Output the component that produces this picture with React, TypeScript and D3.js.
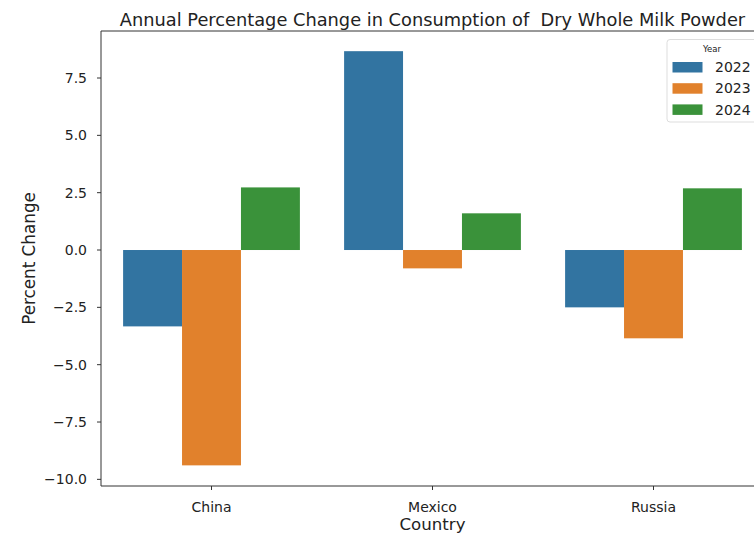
import React from "react";
import * as d3 from "d3";

const countries = ["China", "Mexico", "Russia"];
const years = ["2022", "2023", "2024"];
const values2022 = [-3.33, 8.67, -2.5];
const values2023 = [-9.39, -0.8, -3.85];
const values2024 = [2.73, 1.6, 2.69];
const yTicks = [-10.0, -7.5, -5.0, -2.5, 0.0, 2.5, 5.0, 7.5];
const colors = ["#3274a1", "#e1812c", "#3a923a"];

const W = 754;
const H = 533;
const left = 101;
const right = 764;
const top = 31;
const bottom = 486;
const font = "DejaVu Sans, sans-serif";

export default function App() {
  const series = [values2022, values2023, values2024];
  const x = d3.scaleBand<string>().domain(countries).range([left, right]).paddingInner(0).paddingOuter(0);
  const inner = d3.scaleBand<string>().domain(years).range([0, x.bandwidth() * 0.8]);
  const offset = x.bandwidth() * 0.1;
  const y = d3.scaleLinear().domain([-10.29, 9.55]).range([bottom, top]);
  const fmt = (v: number) => (v < 0 ? "\u2212" + Math.abs(v).toFixed(1) : v.toFixed(1));

  return (
    <svg width={W} height={H} style={{ position: "absolute", left: 0, top: 0, background: "#fff" }} fontFamily={font}>
      <rect x={0} y={0} width={W} height={H} fill="#fff" />
      {series.map((vals, si) =>
        vals.map((v, ci) => (
          <rect
            key={`${si}-${ci}`}
            x={(x(countries[ci]) as number) + offset + (inner(years[si]) as number)}
            width={inner.bandwidth()}
            y={y(Math.max(0, v))}
            height={Math.abs(y(v) - y(0))}
            fill={colors[si]}
          />
        ))
      )}
      {/* spines */}
      <line x1={left} x2={left} y1={top} y2={bottom} stroke="#333" strokeWidth={1} />
      <line x1={left} x2={right} y1={bottom} y2={bottom} stroke="#333" strokeWidth={1} />
      <line x1={left} x2={right} y1={top} y2={top} stroke="#333" strokeWidth={1} />
      <line x1={right} x2={right} y1={top} y2={bottom} stroke="#333" strokeWidth={1} />
      {/* y ticks */}
      {yTicks.map((t) => (
        <g key={t}>
          <line x1={left - 4} x2={left} y1={y(t)} y2={y(t)} stroke="#333" strokeWidth={1} />
          <text x={left - 14} y={y(t)} dy="0.35em" textAnchor="end" fontSize={14} fill="#222">
            {fmt(t)}
          </text>
        </g>
      ))}
      {/* x ticks */}
      {countries.map((c) => {
        const cx = (x(c) as number) + x.bandwidth() / 2;
        return (
          <g key={c}>
            <line x1={cx} x2={cx} y1={bottom} y2={bottom + 4} stroke="#333" strokeWidth={1} />
            <text x={cx} y={bottom + 26} textAnchor="middle" fontSize={14} fill="#222">
              {c}
            </text>
          </g>
        );
      })}
      <text x={(left + right) / 2} y={530} textAnchor="middle" fontSize={16.6} fill="#222">
        Country
      </text>
      <text
        transform={`translate(35, ${(top + bottom) / 2}) rotate(-90)`}
        textAnchor="middle"
        fontSize={16.8}
        fill="#222"
      >
        Percent Change
      </text>
      <text x={(left + right) / 2} y={26} textAnchor="middle" fontSize={17.8} fill="#222">
        Annual Percentage Change in Consumption of {"\u00a0"}Dry Whole Milk Powder
      </text>
      {/* legend */}
      <g>
        <rect x={667} y={39.5} width={110} height={82.5} rx={3} fill="#fff" fillOpacity={0.8} stroke="#ddd" />
        <text x={712} y={52} textAnchor="middle" fontSize={8.5} fill="#222">
          Year
        </text>
        {years.map((yr, i) => (
          <g key={yr}>
            <rect x={672.5} y={62 + i * 21.2} width={30} height={10.5} fill={colors[i]} />
            <text x={715} y={67.3 + i * 21.2} dy="0.35em" fontSize={14} fill="#222">
              {yr}
            </text>
          </g>
        ))}
      </g>
    </svg>
  );
}
